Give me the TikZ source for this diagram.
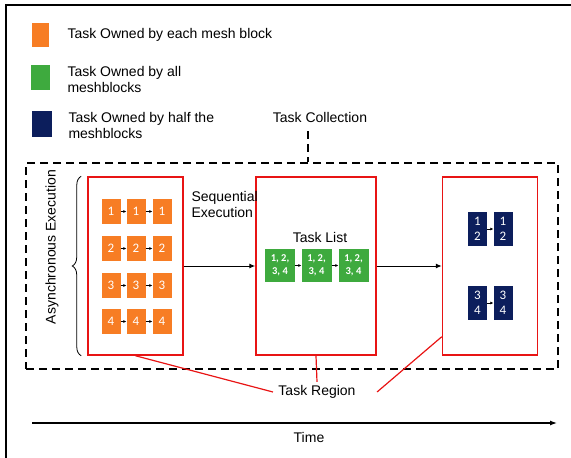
\documentclass[tikz,border=0pt]{standalone}
\usepackage{fontspec}
\setmainfont{Liberation Sans}
\newfontfamily\boxfont{Carlito}
\usepackage{tikz}
\usetikzlibrary{arrows.meta,decorations.pathreplacing,calc}

\definecolor{meshorange}{RGB}{247,125,36}
\definecolor{meshgreen}{RGB}{62,170,62}
\definecolor{meshnavy}{RGB}{12,30,92}
\definecolor{regionred}{RGB}{232,20,20}

\begin{document}
\begin{tikzpicture}[x=1pt,y=-1pt,
  every node/.style={font=\fontsize{14}{16}\selectfont},
  region/.style={draw=regionred,line width=1.5pt,minimum width=95,minimum height=178},
  obox/.style={fill=meshorange,text=white,inner sep=0,minimum width=19,minimum height=25,font=\boxfont\fontsize{13}{14}\selectfont},
  gbox/.style={fill=meshgreen,text=white,inner sep=0,minimum width=30,minimum height=33,align=center,font=\boxfont\bfseries\fontsize{10.5}{13}\selectfont},
  nbox/.style={fill=meshnavy,text=white,inner sep=0,minimum width=19,minimum height=34,align=center,font=\boxfont\fontsize{13}{15}\selectfont},
  small/.style={-{Latex[length=3pt,width=3pt]},line width=0.6pt},
  flow/.style={-{Latex[length=6pt,width=5pt]},line width=1pt}]
\useasboundingbox (0,0) rectangle (571,458);
\draw[line width=1.5pt] (6,458) -- (6,5) -- (571,5);

% legend
\node[fill=meshorange,inner sep=0,minimum width=17,minimum height=24] (lo) at (40.5,35) {};
\node[anchor=west] (lot) at (64,35) {Task Owned by each mesh block};
\node[fill=meshgreen,inner sep=0,minimum width=19,minimum height=25] (lg) at (40.5,77.5) {};
\node[anchor=west,align=left] (lgt) at (64,79) {Task Owned by all\\meshblocks};
\node[fill=meshnavy,inner sep=0,minimum width=20,minimum height=26] (ln) at (42,124) {};
\node[anchor=west,align=left] (lnt) at (65,125) {Task Owned by half the\\meshblocks};

% task collection
\node (tc) at (320,117) {Task Collection};
\coordinate (cl) at (308,131);
\node[draw,dash pattern=on 8pt off 5pt,line width=1.5pt,minimum width=532,minimum height=206] (coll) at (292,266) {};
\draw[dash pattern=on 8pt off 5pt,line width=1.5pt] (cl) -- (cl |- coll.north);

% task regions
\node[region] (r1) at (135.5,266) {};
\node[region,minimum width=120] (r2) at (316,266) {};
\node[region] (r3) at (490,266) {};
\draw[flow] (r1) -- (r2);
\draw[flow] (r2) -- (r3);

\node[rotate=90] (async) at (52,247) {Asynchronous Execution};
\draw[decorate,decoration={brace,amplitude=9pt},line width=0.8pt]
  ($(r1.south west)+(-6,0)$) -- ($(r1.north west)+(-6,0)$);
\node[anchor=west,align=left] (seq) at (188,204) {Sequential\\Execution};

\foreach \r/\y in {1/211.5,2/248.5,3/285.5,4/321.5} {
  \foreach \c/\x in {1/111,2/136,3/162} {
    \node[obox] (o\r\c) at (\x,\y) {\r};
  }
  \draw[small] (o\r1) -- (o\r2);
  \draw[small] (o\r2) -- (o\r3);
}

\node (tl) at (320,237) {Task List};
\node[gbox] (g1) at (280,265.5) {1, 2,\\3, 4};
\node[gbox] (g2) at (316.5,265.5) {1, 2,\\3, 4};
\node[gbox] (g3) at (353.5,265.5) {1, 2,\\3, 4};
\draw[small] (g1) -- (g2);
\draw[small] (g2) -- (g3);

\node[nbox] (n1) at (477.5,229) {1\\2};
\node[nbox] (n2) at (503,229) {1\\2};
\node[nbox] (n3) at (477.5,303) {3\\4};
\node[nbox] (n4) at (503,303) {3\\4};
\draw[small] (n1) -- (n2);
\draw[small] (n3) -- (n4);

% task region label
\node (reg) at (317,392) {Task Region};
\draw[regionred,line width=1.2pt] (r1.south) -- ($(reg.west)+(-2,0)$);
\draw[regionred,line width=1.2pt] (r2.south) -- (reg.north);
\draw[regionred,line width=1.2pt] ($(r3.south west)+(0,-19)$) -- ($(reg.east)+(18,0)$);

% time axis
\coordinate (t0) at (32,423);
\coordinate (t1) at (557,423);
\draw[-{Latex[length=7pt,width=5pt]},line width=1.2pt] (t0) -- (t1);
\node (time) at (309,437) {Time};
\end{tikzpicture}
\end{document}
